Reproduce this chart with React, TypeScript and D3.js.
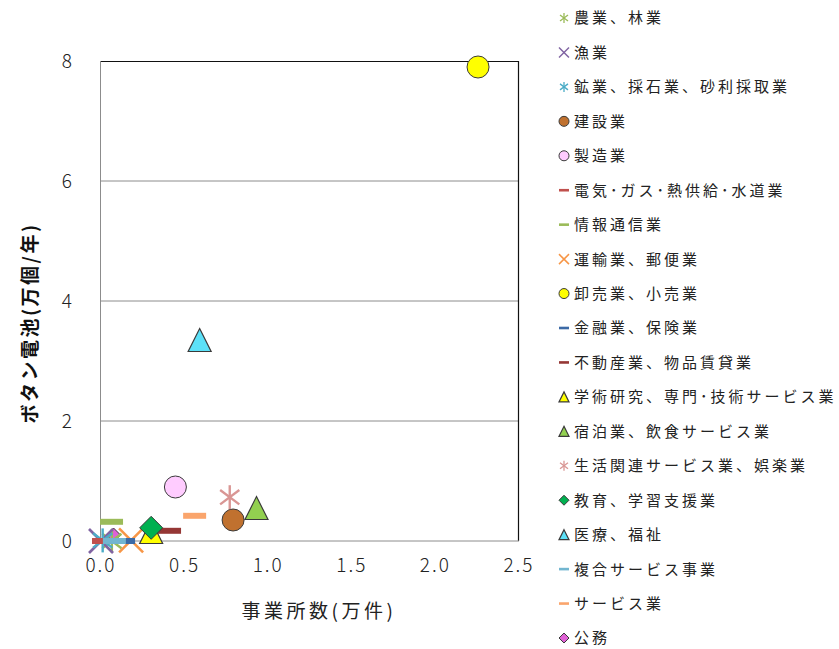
import React from "react";
import * as d3 from "d3";

// Industry series, in legend order
const industries = [
  "農業、林業",
  "漁業",
  "鉱業、採石業、砂利採取業",
  "建設業",
  "製造業",
  "電気･ガス･熱供給･水道業",
  "情報通信業",
  "運輸業、郵便業",
  "卸売業、小売業",
  "金融業、保険業",
  "不動産業、物品賃貸業",
  "学術研究、専門･技術サービス業",
  "宿泊業、飲食サービス業",
  "生活関連サービス業、娯楽業",
  "教育、学習支援業",
  "医療、福祉",
  "複合サービス事業",
  "サービス業",
  "公務",
];

// Number of establishments (10k)
const establishments = [
  0.065, 0.0, 0.01, 0.79, 0.445, 0.015, 0.063, 0.18, 2.255, 0.135, 0.41, 0.30,
  0.93, 0.77, 0.30, 0.59, 0.08, 0.56, 0.075,
];

// Button batteries (10k pieces / year)
const batteries = [
  0.0, 0.0, 0.01, 0.35, 0.9, 0.0, 0.32, 0.01, 7.9, 0.0, 0.17, 0.15, 0.55, 0.73,
  0.22, 3.35, 0.0, 0.42, 0.1,
];

type Shape = "star" | "x" | "circle" | "dash" | "triangle" | "diamond";

const shapes: Shape[] = [
  "star", "x", "star", "circle", "circle", "dash", "dash", "x", "circle", "dash",
  "dash", "triangle", "triangle", "star", "diamond", "triangle", "dash", "dash",
  "diamond",
];

const colors = [
  "#9BBB59", "#8064A2", "#4BACC6", "#C0712F", "#FFCCFF", "#C0504D", "#9BBB59",
  "#F79646", "#FFFF00", "#3C6AA6", "#953735", "#FFFF00", "#92D050", "#D99694",
  "#00B050", "#5CE1F8", "#72B6D0", "#FAA56C", "#E062D6",
];

// Painting order of the series in the plot
const drawOrder = [18, 0, 1, 2, 3, 4, 5, 6, 7, 8, 9, 10, 11, 12, 13, 14, 15, 16, 17];

const xTicks = [0, 0.5, 1.0, 1.5, 2.0, 2.5];
const yTicks = [0, 2, 4, 6, 8];

const FONT = "'Noto Sans CJK JP', 'Noto Sans', sans-serif";

function Marker({ shape, color, cx, cy, s }: { shape: Shape; color: string; cx: number; cy: number; s: number }) {
  const h = s / 2;
  const edge = "#3a3a3a";
  switch (shape) {
    case "circle":
      return <circle cx={cx} cy={cy} r={h} fill={color} stroke={edge} strokeWidth={1} />;
    case "triangle": {
      const p = `${cx},${cy - h} ${cx + h},${cy + h} ${cx - h},${cy + h}`;
      return <polygon points={p} fill={color} stroke={edge} strokeWidth={1.2} />;
    }
    case "diamond": {
      const p = `${cx},${cy - h} ${cx + h},${cy} ${cx},${cy + h} ${cx - h},${cy}`;
      return <polygon points={p} fill={color} stroke={edge} strokeWidth={1} />;
    }
    case "dash":
      return <rect x={cx - h} y={cy - s * 0.13} width={s} height={s * 0.26} fill={color} />;
    case "x": {
      const w = Math.max(1.5, s * 0.11);
      return (
        <g stroke={color} strokeWidth={w}>
          <line x1={cx - h} y1={cy - h} x2={cx + h} y2={cy + h} />
          <line x1={cx - h} y1={cy + h} x2={cx + h} y2={cy - h} />
        </g>
      );
    }
    case "star": {
      const w = Math.max(1.3, s * 0.1);
      const d = h * 0.8;
      return (
        <g stroke={color} strokeWidth={w}>
          <line x1={cx} y1={cy - h} x2={cx} y2={cy + h} />
          <line x1={cx - d} y1={cy - d * 0.75} x2={cx + d} y2={cy + d * 0.75} />
          <line x1={cx - d} y1={cy + d * 0.75} x2={cx + d} y2={cy - d * 0.75} />
        </g>
      );
    }
  }
}

export default function App() {
  const width = 839;
  const height = 649;
  const left = 101;
  const right = 519;
  const top = 61;
  const bottom = 541;

  const x = d3.scaleLinear().domain([0, 2.5]).range([left, right]);
  const y = d3.scaleLinear().domain([0, 8]).range([bottom, top]);

  const legendY = d3.scaleLinear().domain([0, industries.length - 1]).range([18, 638]);

  return (
    <svg
      width={width}
      height={height}
      style={{ position: "absolute", left: 0, top: 0, background: "#fff" }}
      fontFamily={FONT}
    >
      {/* gridlines */}
      {yTicks.filter((t) => t > 0 && t < 8).map((t) => (
        <line key={t} x1={left} x2={right} y1={y(t)} y2={y(t)} stroke="#8c8c8c" strokeWidth={1} />
      ))}
      {/* plot frame */}
      <line x1={left} x2={right} y1={top + 0.5} y2={top + 0.5} stroke="#111" strokeWidth={1.2} />
      <line x1={right - 0.5} x2={right - 0.5} y1={top} y2={bottom} stroke="#111" strokeWidth={1.2} />
      <line x1={left} x2={right} y1={bottom} y2={bottom} stroke="#8c8c8c" strokeWidth={1} />
      <line x1={left - 0.5} x2={left - 0.5} y1={top} y2={bottom} stroke="#8c8c8c" strokeWidth={1} />

      {/* tick labels */}
      {yTicks.map((t) => (
        <text key={t} x={72} y={y(t)} dy="0.36em" textAnchor="end" fontSize={19} fontWeight={300} fill="#222">
          {d3.format("d")(t)}
        </text>
      ))}
      {xTicks.map((t) => (
        <text key={t} x={x(t)} y={565} dy="0.36em" textAnchor="middle" fontSize={19} fontWeight={300} fill="#222" letterSpacing={2}>
          {d3.format(".1f")(t)}
        </text>
      ))}

      {/* axis titles */}
      <text x={319} y={611} dy="0.36em" textAnchor="middle" fontSize={19} fill="#222" letterSpacing={3.5}>
        事業所数(万件)
      </text>
      <text
        transform={`translate(30,323) rotate(-90)`}
        textAnchor="middle"
        dy="0.36em"
        fontSize={19}
        fontWeight={700}
        fill="#111"
        letterSpacing={2.5}
      >
        ボタン電池(万個/年)
      </text>

      {/* data points */}
      {drawOrder.map((i) => {
        const name = industries[i];
        const shape = shapes[i];
        const size =
          i === 18 ? 14 : shape === "dash" ? 23 : shape === "circle" ? 22 : shape === "x" || shape === "star" ? 24 : 23;
        return (
          <Marker key={name} shape={shape} color={colors[i]} cx={x(establishments[i])} cy={y(batteries[i])} s={size} />
        );
      })}

      {/* legend */}
      {industries.map((name, i) => {
        const ly = legendY(i);
        return (
          <g key={name}>
            <Marker shape={shapes[i]} color={colors[i]} cx={564} cy={ly} s={10} />
            <text x={574} y={ly} dy="0.36em" fontSize={15} fill="#222" letterSpacing={3}>
              {name}
            </text>
          </g>
        );
      })}
    </svg>
  );
}
